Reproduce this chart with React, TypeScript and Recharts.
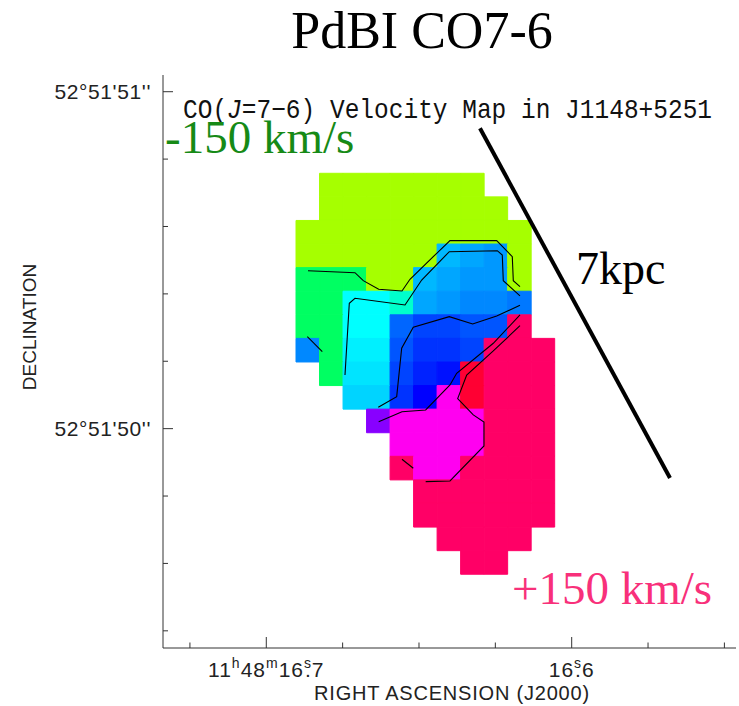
import { ScatterChart, Scatter, XAxis, YAxis, ReferenceArea } from "recharts";

// RA seconds (11h48m..s) and Dec arcsec (52°51'..") of the plotted window
const RA_DOMAIN = [16.5462, 16.73382];
const DEC_DOMAIN = [49.349, 51.0496];
const RA_TICKS = [16.725, 16.7, 16.675, 16.65, 16.625, 16.6, 16.575, 16.55];
const RA_MAJOR = [16.7, 16.6];
const DEC_TICKS = [51.0, 50.8, 50.6, 50.4, 50.2, 50.0, 49.8, 49.6, 49.4];
const DEC_MAJOR = [51, 50];

// velocity map: 0.07" pixels, first column / first row edge
const MAP_RA0 = 16.69027;
const MAP_DEC0 = 50.7579;
const PIX_RA = 0.0077;
const PIX_DEC = 0.07;

const PALETTE: Record<string, string> = {
  Y: "#a6ff00",
  G: "#00ff62",
  A: "#00ffcc",
  C: "#00ffff",
  D: "#00f0ff",
  E: "#00e4ff",
  F: "#00d4ff",
  a: "#00b8ff",
  b: "#00a6ff",
  c: "#0098ff",
  d: "#0088ff",
  e: "#0078ff",
  f: "#0066ff",
  g: "#0055ff",
  h: "#0044ff",
  i: "#0033ff",
  j: "#0022ff",
  k: "#0011ff",
  l: "#0000ff",
  V: "#8800ff",
  M: "#ff00f0",
  R: "#ff0033",
  P: "#ff0066",
};

const MAP_ROWS = [
  ".YYYYYYY...",
  ".YYYYYYYY..",
  "YYYYYYYYYY.",
  "YYYYYYabcY.",
  "GGGYYabccY.",
  "GGCCAbcdde.",
  "GGCCfhhggP.",
  "dGDDgiihPPP",
  ".GEEhjkRPPP",
  "..FFilMRPPP",
  "...VMMMMPPP",
  "....MMMMPPP",
  "....PMMPPPP",
  ".....PPPPPP",
  ".....PPPPPP",
  "......PPPP.",
  ".......PP..",
];

// contour polylines [ra, dec]
const CONTOUR_1 = [
  [16.68635, 50.4688], [16.67096, 50.4629], [16.66824, 50.4392], [16.6632, 50.4136],
  [16.65557, 50.4086], [16.65295, 50.4433], [16.6442, 50.5205], [16.63985, 50.5579],
  [16.62456, 50.5579], [16.61945, 50.5104], [16.61912, 50.4392], [16.61693, 50.4214],
];
const CONTOUR_2 = [
  [16.61693, 50.3938], [16.6224, 50.4392], [16.62273, 50.5154], [16.62436, 50.5282],
  [16.64008, 50.5252], [16.64912, 50.4412], [16.65458, 50.3671], [16.67096, 50.3869],
  [16.67282, 50.3721], [16.67423, 50.1593],
];
const CONTOUR_3 = [
  [16.61693, 50.3662], [16.62456, 50.3344], [16.63242, 50.3107], [16.64008, 50.3323],
  [16.65187, 50.3009], [16.65567, 50.2386], [16.6573, 50.095], [16.66333, 50.0635],
];
const CONTOUR_4 = [
  [16.61693, 50.3374], [16.62567, 50.2534], [16.63766, 50.1644], [16.63985, 50.1297],
  [16.64781, 50.0555], [16.65557, 50.0504], [16.6632, 50.0208],
];
const CONTOUR_5 = [
  [16.61693, 50.3056], [16.62567, 50.2306], [16.63438, 50.1593], [16.63733, 50.089],
  [16.63222, 50.0407], [16.62872, 50.0199], [16.62872, 49.9487], [16.63985, 49.8448],
  [16.64781, 49.8427],
];
const CONTOUR_6 = [[16.65557, 49.9092], [16.65187, 49.8825]];
const CONTOUR_7 = [[16.68657, 50.273], [16.68166, 50.2285]];
const CONTOURS = [CONTOUR_1, CONTOUR_2, CONTOUR_3, CONTOUR_4, CONTOUR_5, CONTOUR_6, CONTOUR_7];

const SCALE_BAR = [[16.63003, 50.8914], [16.56781, 49.8537]];

const AXIS_FONT = "'Liberation Sans', Arial, sans-serif";
const SERIF = "'Liberation Serif', 'Times New Roman', serif";
const AXIS_COLOR = "#333";

const isMajor = (v: number, list: number[]) => list.some((m) => Math.abs(m - v) < 1e-6);
const toPoints = (line: number[][]) => line.map(([ra, dec]) => ({ ra, dec }));

const cells = MAP_ROWS.flatMap((row, r) =>
  row.split("").map((ch, c) => ({ ch, r, c })).filter((d) => d.ch !== ".")
);

function raLabel(v: number, x: number, y: number) {
  const sup = { fontSize: 14 };
  const common = {
    x,
    y,
    textAnchor: "middle" as const,
    fontSize: 21,
    fontFamily: AXIS_FONT,
    fill: "#222",
    letterSpacing: 1,
  };
  if (Math.abs(v - 16.7) < 1e-6) {
    return (
      <text {...common}>
        <tspan>11</tspan>
        <tspan dy={-9} {...sup}>h</tspan>
        <tspan dy={9}>48</tspan>
        <tspan dy={-9} {...sup}>m</tspan>
        <tspan dy={9}>16</tspan>
        <tspan dy={-9} {...sup}>s</tspan>
        <tspan dx={-7} dy={9}>.7</tspan>
      </text>
    );
  }
  return (
    <text {...common}>
      <tspan>16</tspan>
      <tspan dy={-9} {...sup}>s</tspan>
      <tspan dx={-7} dy={9}>.{Math.round((v - 16) * 10)}</tspan>
    </text>
  );
}

const BottomTick = (props: any) => {
  const { x, y, payload } = props;
  const major = isMajor(payload.value, RA_MAJOR);
  return (
    <g>
      <line x1={x} x2={x} y1={y} y2={y - (major ? 11 : 5.5)} stroke={AXIS_COLOR} />
      {major && raLabel(payload.value, x, y + 29)}
    </g>
  );
};

const TopTick = (props: any) => {
  const { x, y, payload } = props;
  const major = isMajor(payload.value, RA_MAJOR);
  return <line x1={x} x2={x} y1={y} y2={y + (major ? 11 : 5.5)} stroke={AXIS_COLOR} />;
};

const LeftTick = (props: any) => {
  const { x, y, payload } = props;
  const major = isMajor(payload.value, DEC_MAJOR);
  return (
    <g>
      <line x1={x} x2={x + (major ? 10 : 5)} y1={y} y2={y} stroke={AXIS_COLOR} />
      {major && (
        <text x={x - 12} y={y + 7} textAnchor="end" fontSize={21} letterSpacing={0.6} fontFamily={AXIS_FONT} fill="#222">
          {`52°51'${Math.round(payload.value)}''`}
        </text>
      )}
    </g>
  );
};

const RightTick = (props: any) => {
  const { x, y, payload } = props;
  const major = isMajor(payload.value, DEC_MAJOR);
  return <line x1={x} x2={x - (major ? 10 : 5)} y1={y} y2={y} stroke={AXIS_COLOR} />;
};

const NoDot = () => <g />;

export default function App() {
  return (
    <div style={{ position: "absolute", left: 0, top: 0, width: 739, height: 706, background: "#fff" }}>
      <ScatterChart width={739} height={706} margin={{ top: 75, right: 3, bottom: 0, left: 0 }}>
        <XAxis
          xAxisId="b"
          dataKey="ra"
          type="number"
          domain={RA_DOMAIN}
          reversed
          allowDataOverflow
          ticks={RA_TICKS}
          interval={0}
          height={58}
          tickSize={0}
          tickMargin={0}
          tickLine={false}
          tick={<BottomTick />}
          axisLine={{ stroke: AXIS_COLOR }}
        />
        <XAxis
          xAxisId="t"
          orientation="top"
          dataKey="ra"
          type="number"
          domain={RA_DOMAIN}
          reversed
          allowDataOverflow
          ticks={RA_TICKS}
          interval={0}
          height={0}
          tickSize={0}
          tickMargin={0}
          tickLine={false}
          tick={<TopTick />}
          axisLine={{ stroke: AXIS_COLOR }}
        />
        <YAxis
          yAxisId="l"
          dataKey="dec"
          type="number"
          domain={DEC_DOMAIN}
          allowDataOverflow
          ticks={DEC_TICKS}
          interval={0}
          width={163}
          tickSize={0}
          tickMargin={0}
          tickLine={false}
          tick={<LeftTick />}
          axisLine={{ stroke: AXIS_COLOR }}
        />
        <YAxis
          yAxisId="r"
          orientation="right"
          dataKey="dec"
          type="number"
          domain={DEC_DOMAIN}
          allowDataOverflow
          ticks={DEC_TICKS}
          interval={0}
          width={0}
          tickSize={0}
          tickMargin={0}
          tickLine={false}
          tick={<RightTick />}
          axisLine={false}
        />
        {cells.map(({ ch, r, c }) => (
          <ReferenceArea
            key={`${r}-${c}`}
            xAxisId="b"
            yAxisId="l"
            x1={MAP_RA0 - c * PIX_RA}
            x2={MAP_RA0 - (c + 1) * PIX_RA}
            y1={MAP_DEC0 - r * PIX_DEC}
            y2={MAP_DEC0 - (r + 1) * PIX_DEC}
            fill={PALETTE[ch]}
            fillOpacity={1}
            stroke={PALETTE[ch]}
            strokeWidth={1}
            ifOverflow="visible"
          />
        ))}
        {CONTOURS.map((line, i) => (
          <Scatter
            key={i}
            xAxisId="b"
            yAxisId="l"
            data={toPoints(line)}
            line={{ stroke: "#000", strokeWidth: 1.1 }}
            lineType="joint"
            shape={<NoDot />}
            isAnimationActive={false}
          />
        ))}
        <Scatter
          xAxisId="b"
          yAxisId="l"
          data={toPoints(SCALE_BAR)}
          line={{ stroke: "#000", strokeWidth: 4 }}
          lineType="joint"
          shape={<NoDot />}
          isAnimationActive={false}
        />
      </ScatterChart>
      <svg
        width={739}
        height={706}
        style={{ position: "absolute", left: 0, top: 0, pointerEvents: "none" }}
      >
        <text x={422} y={48} textAnchor="middle" fontSize={52} fontFamily={SERIF} fill="#000">
          PdBI CO7-6
        </text>
        <text
          x={183}
          y={118}
          fontSize={24.5}
          fontFamily="'Liberation Mono', 'Courier New', monospace"
          fill="#111"
          transform="translate(0 118) scale(1 1.12) translate(0 -118)"
        >
          CO(<tspan fontStyle="italic">J</tspan>=7−6) Velocity Map in J1148+5251
        </text>
        <text x={165} y={153} fontSize={47} fontFamily={SERIF} fill="#168a16">
          -150 km/s
        </text>
        <text x={576} y={284} fontSize={46} fontFamily={SERIF} fill="#000">
          7kpc
        </text>
        <text x={512} y={604} fontSize={47} fontFamily={SERIF} fill="#f8307a">
          +150 km/s
        </text>
        <text
          x={29}
          y={327}
          transform="rotate(-90 29 327)"
          textAnchor="middle"
          dominantBaseline="central"
          fontSize={19}
          fontFamily={AXIS_FONT}
          fill="#222"
        >
          DECLINATION
        </text>
        <text x={452} y={700} textAnchor="middle" fontSize={20} letterSpacing={0.8} fontFamily={AXIS_FONT} fill="#222">
          RIGHT ASCENSION (J2000)
        </text>
      </svg>
    </div>
  );
}
